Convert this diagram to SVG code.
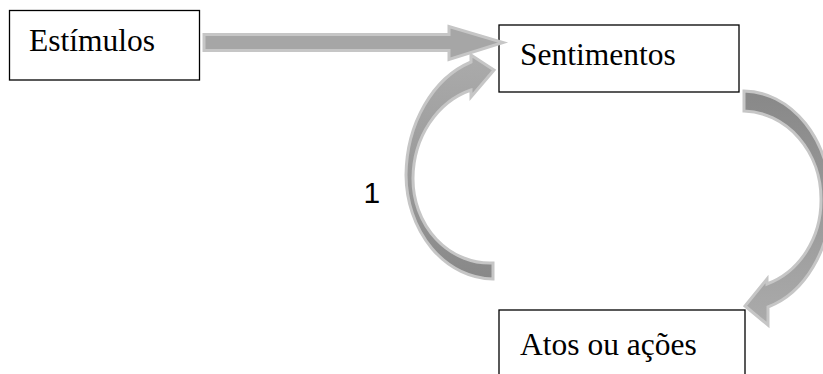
<svg xmlns="http://www.w3.org/2000/svg" width="823" height="374" viewBox="0 0 823 374">
  <style>
    .box { fill: #ffffff; stroke: #000000; stroke-width: 1.3; }
    .lbl { font-family: "Liberation Serif", "Times New Roman", serif; font-size: 31.5px; fill: #000000; }
    .num { font-family: "Liberation Sans", Arial, sans-serif; font-size: 30px; fill: #000000; }
    .arrow { stroke: #c6c6c6; stroke-width: 3; stroke-linejoin: miter; }
  </style>
  <defs>
    <linearGradient id="gLeft" x1="0" y1="1" x2="0" y2="0">
      <stop offset="0" stop-color="#888888"/>
      <stop offset="0.45" stop-color="#999999"/>
      <stop offset="1" stop-color="#ababab"/>
    </linearGradient>
    <linearGradient id="gRight" x1="0" y1="0" x2="0" y2="1">
      <stop offset="0" stop-color="#888888"/>
      <stop offset="0.5" stop-color="#999999"/>
      <stop offset="1" stop-color="#ababab"/>
    </linearGradient>
  </defs>

  <g id="node-estimulos">
    <rect class="box" x="9.5" y="10.5" width="190" height="69.5"/>
    <text class="lbl" x="29" y="51">Estímulos</text>
  </g>
  <g id="node-sentimentos">
    <rect class="box" x="499" y="25" width="240" height="67"/>
    <text class="lbl" x="520" y="65">Sentimentos</text>
  </g>
  <g id="node-atos">
    <rect class="box" x="499" y="310" width="246" height="80"/>
    <text class="lbl" x="520" y="355">Atos ou ações</text>
  </g>

  <g id="connectors">
    <path id="arrow-estimulos-sentimentos" class="arrow" fill="#a6a6a6"
          d="M 204 34.5 L 449 34.5 L 449 26.5 L 503 42.5 L 449 59.5 L 449 50.5 L 204 50.5 Z"/>
    <path id="arrow-sentimentos-atos" class="arrow" fill="url(#gRight)"
          d="M 744 91 A 88 110 0 0 1 831 200 A 88 113 0 0 1 768 307 L 768 325 L 745 306 L 767 279 L 767 284 A 79 88 0 0 0 821 200 A 79 88 0 0 0 744 111 Z"/>
    <path id="arrow-atos-sentimentos" class="arrow" fill="url(#gLeft)"
          d="M 493 279 A 88 105 0 0 1 406 175 A 95 121 0 0 1 471 62 L 471 55 L 494 70 L 471 97 L 471 90 A 82 93 0 0 0 413 178 A 77 84 0 0 0 493 263 Z"/>
    <text id="label-1" class="num" x="363.5" y="203">1</text>
  </g>
</svg>
